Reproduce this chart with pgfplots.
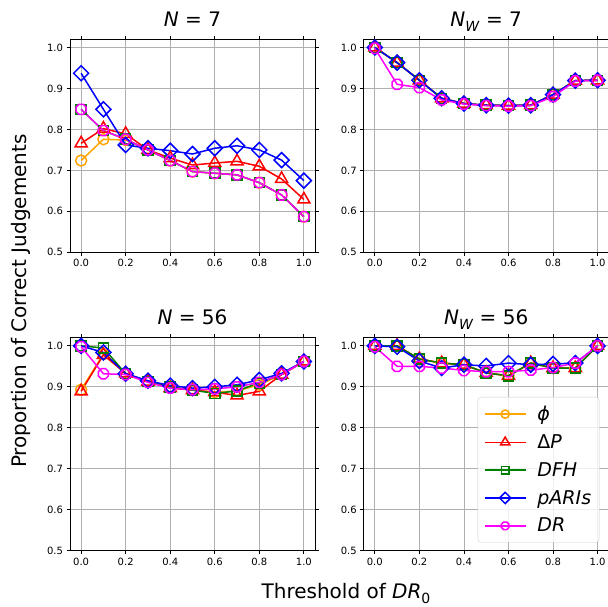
\documentclass[border=0pt]{standalone}
\usepackage{fontspec}
\setmainfont{DejaVu Sans}
\usepackage{pgfplots}
\usepackage{pgfplotstable}
\pgfplotsset{compat=1.18}

\definecolor{mplorange}{HTML}{FFA500}
\definecolor{mplred}{HTML}{FF0000}
\definecolor{mplgreen}{HTML}{008000}
\definecolor{mplblue}{HTML}{0000FF}
\definecolor{mplmagenta}{HTML}{FF00FF}
\definecolor{gridgray}{HTML}{B0B0B0}

% octagon marker (matplotlib '8')
\pgfdeclareplotmark{oct}{%
  \pgfpathmoveto{\pgfpointpolar{22.5}{\pgfplotmarksize}}%
  \pgfpathlineto{\pgfpointpolar{67.5}{\pgfplotmarksize}}%
  \pgfpathlineto{\pgfpointpolar{112.5}{\pgfplotmarksize}}%
  \pgfpathlineto{\pgfpointpolar{157.5}{\pgfplotmarksize}}%
  \pgfpathlineto{\pgfpointpolar{202.5}{\pgfplotmarksize}}%
  \pgfpathlineto{\pgfpointpolar{247.5}{\pgfplotmarksize}}%
  \pgfpathlineto{\pgfpointpolar{292.5}{\pgfplotmarksize}}%
  \pgfpathlineto{\pgfpointpolar{337.5}{\pgfplotmarksize}}%
  \pgfpathclose
  \pgfusepathqstroke}

% threshold  phi  DeltaP  DFH  pARIs  DR
\pgfplotstableread{
x   phi   dp    dfh   paris dr
0.0 0.724 0.766 0.849 0.937 0.849
0.1 0.776 0.802 0.797 0.849 0.797
0.2 0.774 0.789 0.776 0.762 0.776
0.3 0.750 0.750 0.750 0.754 0.750
0.4 0.724 0.730 0.724 0.748 0.724
0.5 0.697 0.713 0.697 0.740 0.697
0.6 0.693 0.718 0.693 0.754 0.693
0.7 0.689 0.722 0.689 0.760 0.689
0.8 0.670 0.710 0.670 0.750 0.670
0.9 0.640 0.679 0.640 0.725 0.640
1.0 0.587 0.629 0.587 0.675 0.587
}\tblNseven

\pgfplotstableread{
x   phi   dp    dfh   paris dr
0.0 1.000 1.000 1.000 1.000 0.998
0.1 0.963 0.963 0.963 0.963 0.910
0.2 0.920 0.920 0.920 0.920 0.902
0.3 0.876 0.876 0.876 0.876 0.872
0.4 0.863 0.863 0.863 0.863 0.862
0.5 0.859 0.859 0.859 0.859 0.858
0.6 0.858 0.858 0.858 0.858 0.857
0.7 0.859 0.859 0.859 0.859 0.858
0.8 0.885 0.885 0.885 0.885 0.880
0.9 0.919 0.919 0.919 0.919 0.918
1.0 0.920 0.920 0.920 0.920 0.920
}\tblNWseven

\pgfplotstableread{
x   phi   dp    dfh   paris dr
0.0 0.893 0.889 1.000 1.000 0.998
0.1 0.980 0.978 0.995 0.984 0.932
0.2 0.932 0.933 0.932 0.932 0.930
0.3 0.913 0.913 0.913 0.915 0.911
0.4 0.899 0.897 0.900 0.903 0.897
0.5 0.892 0.892 0.892 0.897 0.893
0.6 0.887 0.887 0.884 0.900 0.895
0.7 0.890 0.879 0.890 0.905 0.900
0.8 0.905 0.889 0.910 0.917 0.911
0.9 0.930 0.930 0.930 0.933 0.930
1.0 0.962 0.962 0.962 0.962 0.962
}\tblNfiftysix

\pgfplotstableread{
x   phi   dp    dfh   paris dr
0.0 1.000 1.000 1.000 1.000 0.998
0.1 1.000 1.000 1.000 0.998 0.950
0.2 0.968 0.968 0.968 0.963 0.950
0.3 0.958 0.958 0.958 0.946 0.946
0.4 0.954 0.954 0.954 0.954 0.940
0.5 0.934 0.934 0.934 0.951 0.937
0.6 0.927 0.927 0.927 0.958 0.937
0.7 0.958 0.958 0.958 0.954 0.941
0.8 0.946 0.946 0.946 0.956 0.947
0.9 0.946 0.946 0.946 0.958 0.958
1.0 1.000 1.000 1.000 1.000 1.000
}\tblNWfiftysix

\pgfplotsset{
  panel/.style={
    scale only axis, width=245pt, height=213pt,
    anchor=south west,
    xmin=-0.05, xmax=1.05, ymin=0.5, ymax=1.02,
    xtick={0,0.2,0.4,0.6,0.8,1}, ytick={0.5,0.6,0.7,0.8,0.9,1},
    grid=major, grid style={gridgray, line width=0.8pt},
    axis line style={line width=0.8pt},
    tick align=outside, major tick length=3.5pt,
    tick style={black, line width=0.8pt},
    /pgf/number format/assume math mode=true,
    /pgf/number format/.cd, fixed, fixed zerofill, precision=1, /pgfplots/.cd,
    tick label style={font=\fontsize{10}{12}\selectfont},
    title style={at={(0.5,1)}, anchor=base, yshift=7pt, font=\fontsize{20}{24}\selectfont},
  },
  sphi/.style={mplorange, line width=1.5pt, mark=o, mark size=5.5pt},
  sdp/.style={mplred, line width=1.5pt, mark=triangle, mark size=7pt},
  sdfh/.style={mplgreen, line width=1.5pt, mark=square, mark size=5pt},
  sparis/.style={mplblue, line width=1.5pt, mark=square, mark size=5.3pt, mark options={rotate=45}},
  sdr/.style={mplmagenta, line width=1.5pt, mark=oct, mark size=5.5pt},
}

\newcommand{\allseries}[1]{%
  \addplot[sphi] table[x=x, y=phi] {#1};
  \addplot[sdp] table[x=x, y=dp] {#1};
  \addplot[sdfh] table[x=x, y=dfh] {#1};
  \addplot[sparis] table[x=x, y=paris] {#1};
  \addplot[sdr] table[x=x, y=dr] {#1};
}

\begin{document}
\begin{tikzpicture}[x=1pt, y=1pt]
\path[use as bounding box] (0,0) rectangle (608,607);

\begin{axis}[panel, at={(70pt,354.7pt)}, title={\textit{N} = 7}]
\allseries{\tblNseven}
\end{axis}

\begin{axis}[panel, at={(363.7pt,354.7pt)},
  title={\textit{N}\raisebox{-0.25em}{\fontsize{14}{14}\selectfont\textit{W}} = 7}]
\allseries{\tblNWseven}
\end{axis}

\begin{axis}[panel, at={(70pt,56.3pt)}, title={\textit{N} = 56}]
\allseries{\tblNfiftysix}
\end{axis}

\begin{axis}[panel, at={(363.7pt,56.3pt)},
  title={\textit{N}\raisebox{-0.25em}{\fontsize{14}{14}\selectfont\textit{W}} = 56},
  legend cell align=left,
  legend style={at={(0.962,0.0376)}, anchor=south east,
    draw={rgb,255:red,204;green,204;blue,204}, rounded corners=3pt,
    fill=white, fill opacity=0.8, text opacity=1,
    font=\fontsize{19}{22}\selectfont, row sep=8.5pt, column sep=9pt,
    inner xsep=6pt, inner ysep=7pt},
  legend image code/.code={%
    \pgfsetplotmarksize{0.75\pgfplotmarksize}%
    \draw[line width=1.5pt, mark repeat=2, mark phase=2]
      plot coordinates {(0pt,0pt) (20.5pt,0pt) (41pt,0pt)};}]
\allseries{\tblNWfiftysix}
\legend{{\itshape ϕ}, Δ\textit{P}, \textit{DFH}, \textit{pARIs}, \textit{DR}}
\end{axis}

\node[rotate=90, anchor=base, font=\fontsize{20}{24}\selectfont] at (27,306)
  {Proportion of Correct Judgements};
\node[anchor=base, font=\fontsize{20}{24}\selectfont] at (346,8)
  {Threshold of \textit{DR}\raisebox{-0.25em}{\fontsize{14}{14}\selectfont 0}};
\end{tikzpicture}
\end{document}
